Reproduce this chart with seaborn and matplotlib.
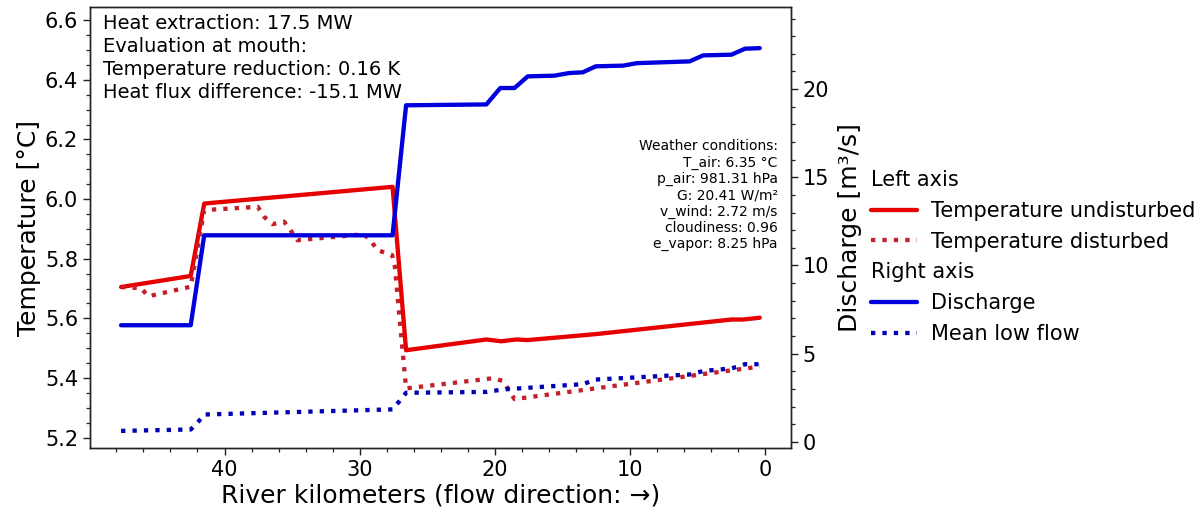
import numpy as np
import pandas as pd
import matplotlib
matplotlib.use('Agg')
import matplotlib.pyplot as plt
from matplotlib.lines import Line2D
from matplotlib.ticker import MultipleLocator
import seaborn as sns

# river kilometre positions
km_temp_und = [47.65, 42.5, 41.5, 27.57, 26.57, 20.63, 19.53, 18.43, 17.57, 12.54, 2.5, 1.64, 0.41]
temp_und = [5.705, 5.742, 5.985, 6.041, 5.493, 5.529, 5.523, 5.529, 5.527, 5.547, 5.596, 5.596, 5.602]

km_temp_dis = [47.65, 46.18, 45.63, 42.5, 41.5, 37.54, 37.06, 36.44, 35.59, 35.1, 34.6, 31.9,
               29.7, 29.2, 28.7, 27.6, 27.4, 26.57, 20.15, 19.4, 18.55, 0.41]
temp_dis = [5.705, 5.701, 5.674, 5.706, 5.963, 5.974, 5.940, 5.916, 5.924, 5.894, 5.862, 5.873,
            5.882, 5.862, 5.829, 5.812, 5.773, 5.365, 5.399, 5.390, 5.329, 5.438]

km_q = [47.65, 42.5, 41.5, 27.57, 26.57, 20.63, 19.6, 18.55, 17.57, 15.6, 14.5, 13.5, 12.54,
        10.5, 9.5, 5.6, 4.6, 2.5, 1.5, 0.41]
discharge = [6.61, 6.61, 11.71, 11.71, 19.08, 19.13, 20.06, 20.06, 20.72, 20.76, 20.91, 20.95, 21.29,
             21.33, 21.47, 21.57, 21.91, 21.95, 22.29, 22.32]

km_mlf = [47.65, 42.5, 42.0, 41.5, 27.57, 27.1, 26.57, 20.63, 19.4, 13.5, 12.54, 5.56, 4.58, 2.5, 1.5, 0.41]
mean_low_flow = [0.62, 0.70, 1.08, 1.55, 1.84, 2.27, 2.78, 2.83, 2.97, 3.27, 3.53, 3.82, 4.02, 4.16, 4.40, 4.40]

info_text = ("Heat extraction: 17.5 MW\nEvaluation at mouth:\n"
             "Temperature reduction: 0.16 K\nHeat flux difference: -15.1 MW")
weather_text = ("Weather conditions:\nT_air: 6.35 °C\np_air: 981.31 hPa\nG: 20.41 W/m²\n"
                "v_wind: 2.72 m/s\ncloudiness: 0.96\ne_vapor: 8.25 hPa")

sns.set_style('ticks')
plt.rcParams['font.family'] = ['DejaVu Sans']
plt.rcParams['text.color'] = 'black'
plt.rcParams['axes.labelcolor'] = 'black'
plt.rcParams['xtick.color'] = 'black'
plt.rcParams['ytick.color'] = 'black'

fig = plt.figure(figsize=(12.03, 5.08), dpi=100)
ax = fig.add_axes([0.0748, 0.1181, 0.5827, 0.868])
ax2 = ax.twinx()

df_und = pd.DataFrame({'km': km_temp_und, 'T': temp_und})
df_dis = pd.DataFrame({'km': km_temp_dis, 'T': temp_dis})
df_q = pd.DataFrame({'km': km_q, 'Q': discharge})
df_mlf = pd.DataFrame({'km': km_mlf, 'Q': mean_low_flow})

sns.lineplot(data=df_und, x='km', y='T', ax=ax, color='#e60000', lw=3.1, sort=False, estimator=None)
sns.lineplot(data=df_dis, x='km', y='T', ax=ax, color='#c4202a', lw=3.1, ls=':', sort=False, estimator=None)
sns.lineplot(data=df_q, x='km', y='Q', ax=ax2, color='#0000dc', lw=3.1, sort=False, estimator=None)
sns.lineplot(data=df_mlf, x='km', y='Q', ax=ax2, color='#0000b4', lw=3.1, ls=':', sort=False, estimator=None)

ax.set_xlim(49.95, -1.9)
ax.set_ylim(5.165, 6.644)
ax2.set_ylim(-0.35, 24.65)

ax.xaxis.set_major_locator(MultipleLocator(10))
ax.xaxis.set_minor_locator(MultipleLocator(2))
ax.yaxis.set_major_locator(MultipleLocator(0.2))
ax.yaxis.set_minor_locator(MultipleLocator(0.05))
ax2.yaxis.set_major_locator(MultipleLocator(5))
ax2.yaxis.set_minor_locator(MultipleLocator(1))

for a in (ax, ax2):
    a.tick_params(which='major', length=5, width=1, labelsize=15, direction='out', color='#222222')
    a.tick_params(which='minor', length=2.8, width=0.9, direction='out', color='#222222')
    for s in a.spines.values():
        s.set_color('#222222')
        s.set_linewidth(1)

ax.set_xlabel('River kilometers (flow direction: →)', fontsize=18, labelpad=3)
ax.set_ylabel('Temperature [°C]', fontsize=18, labelpad=3)
ax2.set_ylabel('Discharge [m³/s]', fontsize=18, labelpad=6)

ax.text(0.0185, 0.985, info_text, transform=ax.transAxes, va='top', ha='left', fontsize=14,
        linespacing=1.27)
ax.text(0.981, 0.7, weather_text, transform=ax.transAxes, va='top', ha='right', fontsize=10,
        multialignment='right', linespacing=1.2)

h_und, h_dis = ax.lines[0], ax.lines[1]
h_q, h_mlf = ax2.lines[0], ax2.lines[1]
handles = [Line2D([], [], ls='none'), h_und, h_dis, Line2D([], [], ls='none'), h_q, h_mlf]
labels = ['Left axis', 'Temperature undisturbed', 'Temperature disturbed',
          'Right axis', 'Discharge', 'Mean low flow']
leg = fig.legend(handles, labels, loc='center left', bbox_to_anchor=(0.724, 0.494),
                 frameon=False, fontsize=15, handlelength=2.2, borderaxespad=0, borderpad=0,
                 handletextpad=0.7, labelspacing=0.52)
for col in leg._legend_handle_box.get_children():
    for row in col.get_children():
        if row.get_children()[1].get_text() in ('Left axis', 'Right axis'):
            row.get_children()[0].set_width(0)
            row.sep = 0

fig.savefig('out.png', dpi=100)
